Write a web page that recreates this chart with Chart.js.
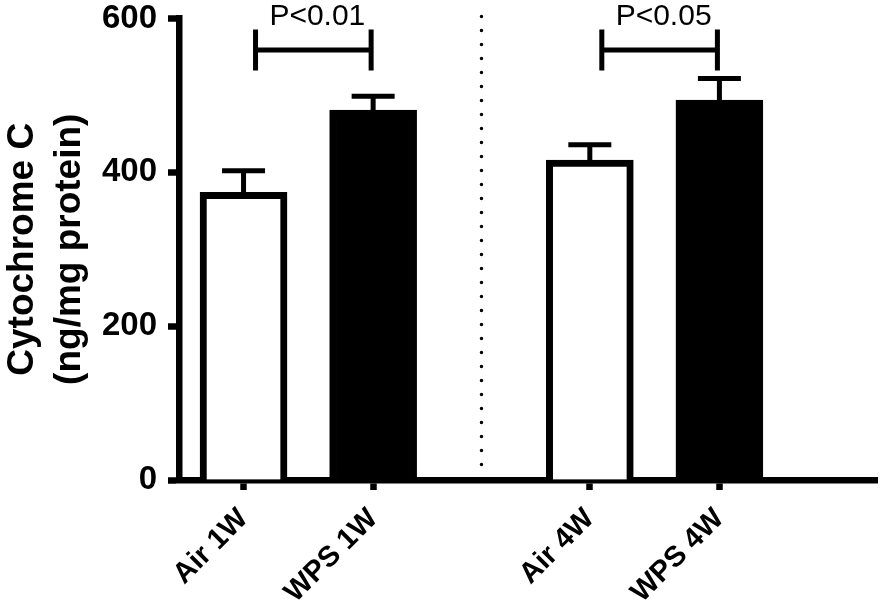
<!DOCTYPE html>
<html>
<head>
<meta charset="utf-8">
<script src="https://cdn.jsdelivr.net/npm/chart.js@4/dist/chart.umd.min.js"></script>
<style>
  html, body { margin: 0; padding: 0; background: #fff; }
  canvas { display: block; }
</style>
</head>
<body>
<canvas id="c" width="882" height="602"></canvas>
<script>
// ---- data ----
const categories = ['Air 1W', 'WPS 1W', 'Air 4W', 'WPS 4W'];
const meanValues = [374, 481, 416, 494];
const semValues = [28, 18, 20, 28];
const yTicks = [0, 200, 400, 600];
const comparisons = [
  { from: 0, to: 1, label: 'P<0.01' },
  { from: 2, to: 3, label: 'P<0.05' }
];

// ---- layout helpers (not data) ----
const GROUP_GAP = 0.672;
const xPos = i => i + (i >= 2 ? GROUP_GAP : 0);
const FONT = '"Liberation Sans", Arial, Helvetica, sans-serif';

const errorBarsPlugin = {
  id: 'errorBars',
  afterDatasetsDraw(chart) {
    const { ctx, scales: { x, y } } = chart;
    ctx.save();
    ctx.strokeStyle = '#000';
    ctx.lineWidth = 5;
    ctx.lineCap = 'butt';
    categories.forEach((c, i) => {
      const px = x.getPixelForValue(xPos(i));
      const yTop = y.getPixelForValue(meanValues[i] + semValues[i]);
      const yBar = y.getPixelForValue(meanValues[i]);
      ctx.beginPath();
      ctx.moveTo(px, yBar);
      ctx.lineTo(px, yTop);
      ctx.moveTo(px - 21.5, yTop);
      ctx.lineTo(px + 21.5, yTop);
      ctx.stroke();
    });
    ctx.restore();
  },
  afterDraw(chart) {
    const { ctx, scales: { x, y }, chartArea } = chart;
    ctx.save();
    // dotted separator
    const sepX = (x.getPixelForValue(xPos(1)) + x.getPixelForValue(xPos(2))) / 2;
    ctx.strokeStyle = '#000';
    ctx.lineWidth = 3.5;
    ctx.lineCap = 'round';
    ctx.setLineDash([0, 14]);
    ctx.beginPath();
    ctx.moveTo(sepX, chartArea.top - 2);
    ctx.lineTo(sepX, chartArea.bottom - 4);
    ctx.stroke();
    ctx.setLineDash([]);
    // significance brackets
    ctx.lineCap = 'butt';
    ctx.lineWidth = 5;
    const yLine = y.getPixelForValue(559);
    comparisons.forEach(cmp => {
      const x1 = x.getPixelForValue(xPos(cmp.from)) + 12;
      const x2 = x.getPixelForValue(xPos(cmp.to)) - 2;
      ctx.beginPath();
      ctx.moveTo(x1, yLine);
      ctx.lineTo(x2, yLine);
      ctx.moveTo(x1, yLine - 20.5);
      ctx.lineTo(x1, yLine + 20.5);
      ctx.moveTo(x2, yLine - 20.5);
      ctx.lineTo(x2, yLine + 20.5);
      ctx.stroke();
      ctx.fillStyle = '#000';
      ctx.font = '30px ' + FONT;
      ctx.textAlign = 'center';
      ctx.textBaseline = 'alphabetic';
      ctx.fillText(cmp.label, (x1 + x2) / 2 + 4, yLine - 25);
    });
    ctx.restore();
  }
};

new Chart(document.getElementById('c'), {
  type: 'bar',
  data: {
    datasets: [{
      data: categories.map((c, i) => ({ x: xPos(i), y: meanValues[i] })),
      backgroundColor: categories.map((c, i) => i % 2 === 0 ? '#ffffff' : '#000000'),
      borderColor: '#000000',
      borderWidth: 7,
      borderSkipped: 'start',
      barThickness: 87
    }]
  },
  options: {
    responsive: false,
    animation: false,
    devicePixelRatio: 1,
    layout: { padding: { top: 18.5, right: 5, left: 0, bottom: 0 } },
    plugins: { legend: { display: false }, tooltip: { enabled: false } },
    scales: {
      x: {
        type: 'linear',
        offset: false,
        min: -0.498,
        max: 4.888,
        afterBuildTicks: axis => { axis.ticks = categories.map((c, i) => ({ value: xPos(i) })); },
        afterFit: axis => { axis.height = 122; axis.paddingLeft = 0; axis.paddingRight = 0; },
        ticks: {
          autoSkip: false,
          maxRotation: 45,
          minRotation: 45,
          padding: 12,
          color: '#000',
          font: { family: FONT, size: 29, weight: 'bold' },
          callback: (v, i) => categories[i]
        },
        grid: { offset: false, drawOnChartArea: false, drawTicks: true, tickLength: 10, tickWidth: 6.5, tickColor: '#000', color: '#000' },
        border: { display: true, width: 6.5, color: '#000' }
      },
      y: {
        min: 0,
        max: 600,
        afterBuildTicks: axis => { axis.ticks = yTicks.map(v => ({ value: v })); },
        afterFit: axis => { axis.width = 179; axis.paddingTop = 0; axis.paddingBottom = 0; },
        ticks: {
          padding: 11,
          color: '#000',
          font: { family: FONT, size: 33, weight: 'bold' },
          callback: v => String(v)
        },
        grid: { drawOnChartArea: false, drawTicks: true, tickLength: 11, tickWidth: 6.5, tickColor: '#000', color: '#000' },
        border: { display: true, width: 6.5, color: '#000' },
        title: {
          display: true,
          text: ['Cytochrome C', '(ng/mg protein)'],
          color: '#000',
          font: { family: FONT, size: 37, weight: 'bold', lineHeight: 1.25 },
          padding: { top: 0, bottom: 0 }
        }
      }
    }
  },
  plugins: [errorBarsPlugin]
});
</script>
</body>
</html>
